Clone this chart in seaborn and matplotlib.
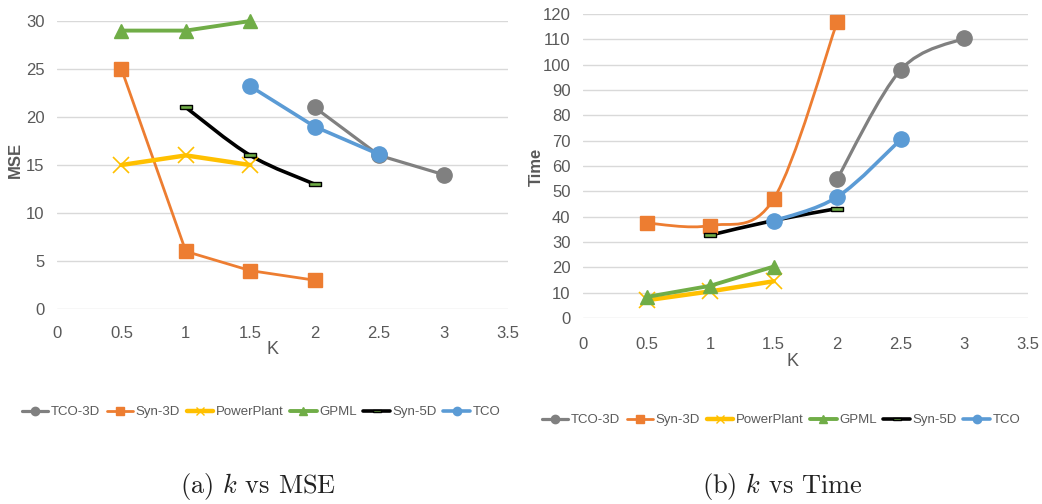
import numpy as np
import matplotlib
matplotlib.use("Agg")
import matplotlib.pyplot as plt
import seaborn as sns
from matplotlib.path import Path
from matplotlib.patches import PathPatch
from matplotlib.lines import Line2D

# K values per series (same in both panels)
k_tco3d = [2, 2.5, 3]
k_syn3d = [0.5, 1, 1.5, 2]
k_power = [0.5, 1, 1.5]
k_gpml = [0.5, 1, 1.5]
k_syn5d = [1, 1.5, 2]
k_tco = [1.5, 2, 2.5]

# (a) MSE
mse_tco3d = [21, 16, 14]
mse_syn3d = [25, 6, 4, 3]
mse_power = [15, 16, 15]
mse_gpml = [29, 29, 30]
mse_syn5d = [21, 16, 13]
mse_tco = [23.2, 19, 16.1]

# (b) Time
time_tco3d = [55, 98, 110.5]
time_syn3d = [37.5, 36.5, 47, 117]
time_power = [7, 10.5, 14.5]
time_gpml = [8.3, 12.7, 20.3]
time_syn5d = [32.7, 38.5, 43.2]
time_tco = [38.3, 47.8, 70.5]

series_names = ["TCO-3D", "Syn-3D", "PowerPlant", "GPML", "Syn-5D", "TCO"]
k_lists = [k_tco3d, k_syn3d, k_power, k_gpml, k_syn5d, k_tco]
mse_lists = [mse_tco3d, mse_syn3d, mse_power, mse_gpml, mse_syn5d, mse_tco]
time_lists = [time_tco3d, time_syn3d, time_power, time_gpml, time_syn5d, time_tco]

# which series use excel "smoothed line"
mse_smooth = [False, False, False, False, True, False]
time_smooth = [True, True, False, False, True, True]

dash = [(-1, -0.35), (1, -0.35), (1, 0.35), (-1, 0.35), (-1, -0.35)]
styles = {
    "TCO-3D": dict(color="#808080", marker="o", ms=11, mfc="#808080", lw=2.3),
    "Syn-3D": dict(color="#ED7D31", marker="s", ms=9.5, mfc="#ED7D31", lw=2.0),
    "PowerPlant": dict(color="#FFC000", marker="x", ms=11, mfc="#FFC000", lw=3.2),
    "GPML": dict(color="#70AD47", marker="^", ms=10, mfc="#70AD47", lw=2.8),
    "Syn-5D": dict(color="black", marker=dash, ms=9, mfc="#70AD47", lw=2.6),
    "TCO": dict(color="#5B9BD5", marker="o", ms=11, mfc="#5B9BD5", lw=2.6),
}

sns.set_theme(style="white")
plt.rcParams["font.family"] = ["Liberation Sans", "DejaVu Sans"]
plt.rcParams["mathtext.fontset"] = "cm"
txt_color = "#595959"


def smooth_path(xs, ys):
    # catmull-rom style bezier, like excel smoothed lines
    p = np.column_stack([xs, ys]).astype(float)
    n = len(p)
    verts = [p[0]]
    codes = [Path.MOVETO]
    for i in range(n - 1):
        p0 = p[i - 1] if i > 0 else p[i]
        p3 = p[i + 2] if i + 2 < n else p[i + 1]
        c1 = p[i] + (p[i + 1] - p0) / 6
        c2 = p[i + 1] - (p3 - p[i]) / 6
        verts += [c1, c2, p[i + 1]]
        codes += [Path.CURVE4] * 3
    return Path(verts, codes)


def draw_panel(ax, y_lists, smooth_flags, ymax, ystep):
    for name, xs, ys, sm in zip(series_names, k_lists, y_lists, smooth_flags):
        st = styles[name]
        mk = dict(marker=st["marker"], markersize=st["ms"], markerfacecolor=st["mfc"],
                  markeredgecolor=st["color"], markeredgewidth=1.2 if name == "PowerPlant" else 1.0)
        if sm:
            ax.add_patch(PathPatch(smooth_path(xs, ys), fill=False, edgecolor=st["color"],
                                   lw=st["lw"], zorder=2, capstyle="round"))
            sns.lineplot(x=xs, y=ys, ax=ax, linestyle="none", zorder=3, clip_on=False, **mk)
        else:
            sns.lineplot(x=xs, y=ys, ax=ax, color=st["color"], lw=st["lw"], zorder=3,
                         clip_on=False, **mk)
    ax.set_xlim(0, 3.5)
    ax.set_ylim(0, ymax)
    ax.set_xticks(np.arange(0, 3.51, 0.5))
    ax.set_xticklabels(["0", "0.5", "1", "1.5", "2", "2.5", "3", "3.5"])
    ax.set_yticks(np.arange(0, ymax + 0.1, ystep))
    ax.grid(axis="y", color="#D9D9D9", lw=1)
    ax.grid(axis="x", visible=False)
    for s in ax.spines.values():
        s.set_visible(False)
    ax.tick_params(length=0, labelsize=12, labelcolor=txt_color)
    ax.set_xlabel("")
    ax.set_ylabel("")


W, H = 1042, 504
fig = plt.figure(figsize=(W / 100, H / 100), dpi=100)
ax1 = fig.add_axes([57 / W, 1 - 309 / H, (508 - 57) / W, (309 - 21) / H])
ax2 = fig.add_axes([583 / W, 1 - 318 / H, (1028 - 583) / W, (318 - 14) / H])

draw_panel(ax1, mse_lists, mse_smooth, 30, 5)
draw_panel(ax2, time_lists, time_smooth, 120, 10)
ax1.tick_params(axis="x", pad=12)
ax1.tick_params(axis="y", pad=9)
ax2.tick_params(axis="x", pad=14)
ax2.tick_params(axis="y", pad=9)

# axis titles
fig.text(15 / W, 1 - 160 / H, "MSE", rotation=90, ha="center", va="center",
         fontsize=12, fontweight="bold", color=txt_color)
fig.text(536 / W, 1 - 167 / H, "Time", rotation=90, ha="center", va="center",
         fontsize=12, fontweight="bold", color=txt_color)
fig.text(273 / W, 1 - 350 / H, "K", ha="center", va="center", fontsize=13, color=txt_color)
fig.text(793 / W, 1 - 361 / H, "K", ha="center", va="center", fontsize=13, color=txt_color)

# legends
handles = []
for name in series_names:
    st = styles[name]
    handles.append(Line2D([0], [0], color=st["color"], lw=st["lw"], marker=st["marker"],
                          markersize=6, markerfacecolor=st["mfc"], markeredgecolor=st["color"]))
for cx, cy in [(261, 412), (781, 420)]:
    leg = fig.legend(handles, series_names, loc="center", bbox_to_anchor=(cx / W, 1 - cy / H),
                     ncol=6, frameon=False, fontsize=9.5, handlelength=2.0, handletextpad=0.2,
                     columnspacing=0.5, borderpad=0, borderaxespad=0)
    for t in leg.get_texts():
        t.set_color(txt_color)

# captions
fig.text(258 / W, 1 - 487 / H, r"(a) $k$ vs MSE", ha="center", va="center",
         fontsize=19, family="cmr10", color="#222222")
fig.text(782 / W, 1 - 487 / H, r"(b) $k$ vs Time", ha="center", va="center",
         fontsize=19, family="cmr10", color="#222222")

fig.savefig("out.png", dpi=100)
